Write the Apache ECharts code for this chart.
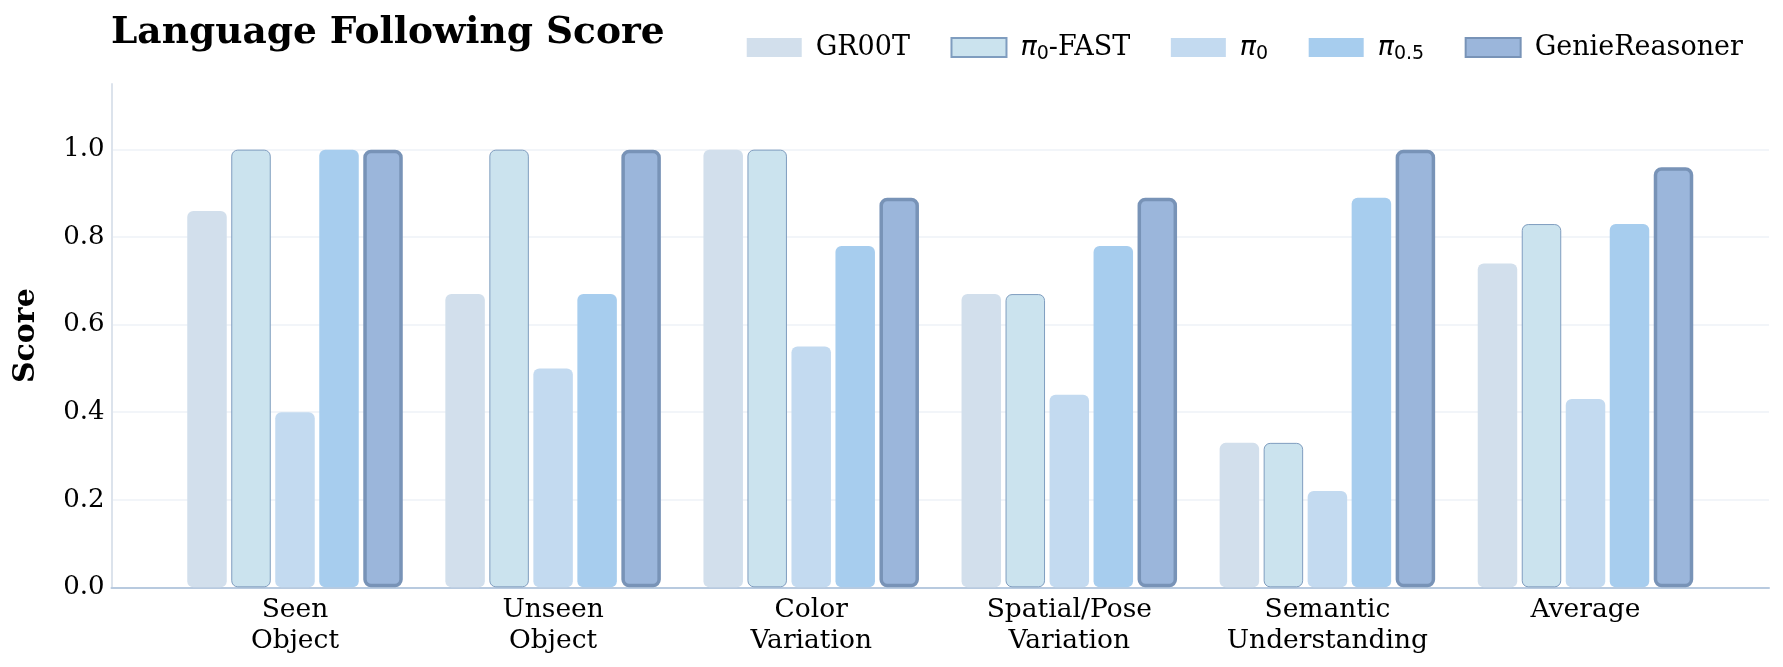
<!DOCTYPE html>
<html>
<head>
<meta charset="utf-8">
<script src="https://cdn.jsdelivr.net/npm/echarts@6/dist/echarts.min.js"></script>
<style>
html,body{margin:0;padding:0;background:#fff;}
#chart{width:1783px;height:667px;}
</style>
</head>
<body>
<div id="chart"></div>
<script>
const categories = ['Seen\nObject', 'Unseen\nObject', 'Color\nVariation', 'Spatial/Pose\nVariation', 'Semantic\nUnderstanding', 'Average'];
const seriesNames = ['GR00T', 'π0-FAST', 'π0', 'π0.5', 'GenieReasoner'];
const legendLabels = ['GR00T', '{i|π}{s|0}-FAST', '{i|π}{s|0}', '{i|π}{s|0.5}', 'GenieReasoner'];
const gr00t = [0.86, 0.67, 1.00, 0.67, 0.33, 0.74];
const pi0fast = [1.00, 1.00, 1.00, 0.67, 0.33, 0.83];
const pi0 = [0.40, 0.50, 0.55, 0.44, 0.22, 0.43];
const pi05 = [1.00, 0.67, 0.78, 0.78, 0.89, 0.83];
const genie = [1.00, 1.00, 0.89, 0.89, 1.00, 0.96];
const yTicks = [0, 0.2, 0.4, 0.6, 0.8, 1.0];

const FONT = 'DejaVu Serif';
const styles = [
  {color: '#d2dfec', borderColor: '#d2dfec', borderWidth: 0},
  {color: '#cbe3ee', borderColor: '#7f9dbf', borderWidth: 1},
  {color: '#c3daf0', borderColor: '#c3daf0', borderWidth: 0},
  {color: '#a7cdee', borderColor: '#a7cdee', borderWidth: 0},
  {color: '#9bb6db', borderColor: '#7893b7', borderWidth: 3.5}
];
const allValues = [gr00t, pi0fast, pi0, pi05, genie];

const chart = echarts.init(document.getElementById('chart'), null, {renderer: 'canvas'});
const series = seriesNames.map((name, k) => ({
  name: name,
  type: 'bar',
  barWidth: 39.5,
  barGap: '11.4%',
  data: allValues[k].map((v, i) => [i, v]),
  itemStyle: Object.assign({borderRadius: 6}, styles[k]),
  emphasis: {disabled: true}
}));

chart.setOption({
  animation: false,
  backgroundColor: '#ffffff',
  title: {
    text: 'Language Following Score',
    left: 106,
    top: 9,
    textStyle: {fontFamily: FONT, fontSize: 37.5, fontWeight: 'bold', color: '#000'}
  },
  legend: {
    data: seriesNames,
    right: 35,
    top: 29,
    itemWidth: 55,
    itemHeight: 19,
    itemGap: 40.5,
    icon: 'rect',
    formatter: function (name) { return legendLabels[seriesNames.indexOf(name)]; },
    textStyle: {
      fontFamily: FONT, fontSize: 27, color: '#000', padding: [0, 0, 0, 9],
      rich: {
        i: {fontFamily: 'DejaVu Sans', fontStyle: 'italic', fontSize: 27, color: '#000'},
        s: {fontFamily: 'DejaVu Sans', fontSize: 19, color: '#000', padding: [13, 0, 0, 0]}
      }
    }
  },
  grid: {left: 111.5, right: 14, top: 84, bottom: 79.7, containLabel: false},
  xAxis: {
    type: 'value',
    min: -0.711,
    max: 5.711,
    axisLine: {show: true, onZero: false, lineStyle: {color: '#b8cadf', width: 2}},
    axisTick: {show: false},
    splitLine: {show: false},
    axisLabel: {
      customValues: [0, 1, 2, 3, 4, 5],
      formatter: function (v) { return categories[Math.round(v)]; },
      fontFamily: FONT, fontSize: 26.5, color: '#000', lineHeight: 31, margin: 7
    }
  },
  yAxis: {
    type: 'value',
    min: 0,
    max: 1.15,
    interval: 0.2,
    name: 'Score',
    nameLocation: 'middle',
    nameGap: 70,
    nameTextStyle: {fontFamily: FONT, fontSize: 30, fontWeight: 'bold', color: '#000'},
    axisLine: {show: true, onZero: false, lineStyle: {color: '#dce3ec', width: 2}},
    axisTick: {show: false},
    splitLine: {show: true, showMaxLine: false, lineStyle: {color: ['#eef2f7','#eef2f7','#eef2f7','#eef2f7','#eef2f7','#eef2f7','rgba(0,0,0,0)'], width: 1.5}},
    axisLabel: {
      customValues: yTicks,
      formatter: function (v) { return v.toFixed(1); },
      fontFamily: FONT, fontSize: 26, color: '#000', margin: 7
    }
  },
  series: series
});
</script>
</body>
</html>
